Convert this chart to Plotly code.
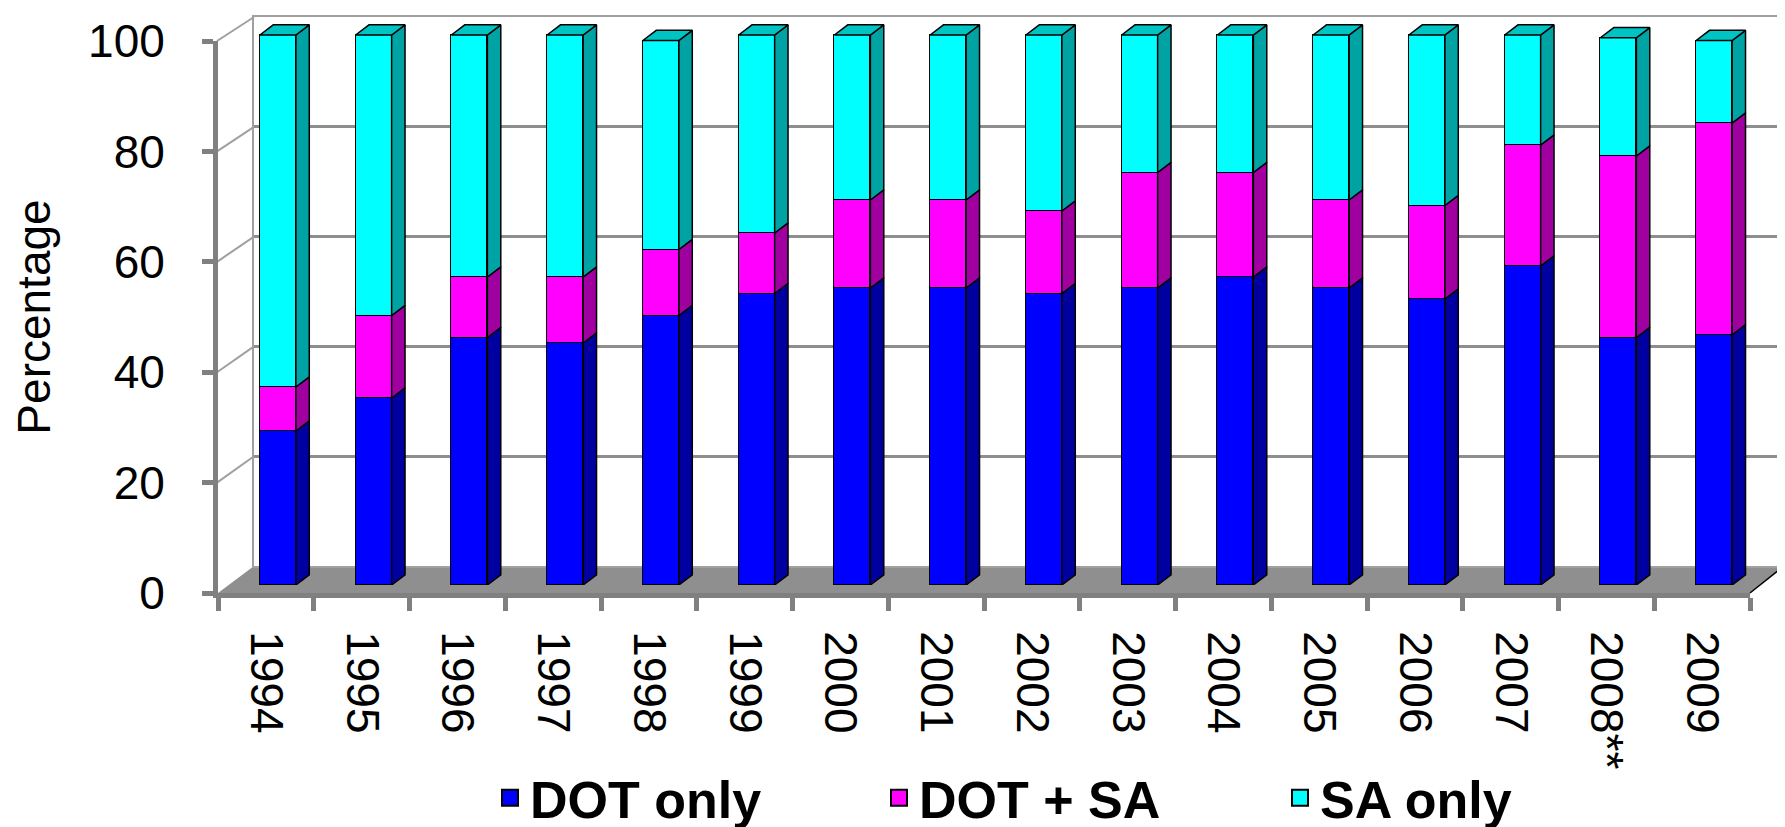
import plotly.graph_objects as go

# ---------------- data ----------------
years = ["1994", "1995", "1996", "1997", "1998", "1999", "2000", "2001",
         "2002", "2003", "2004", "2005", "2006", "2007", "2008**", "2009"]
dot_only = [28, 34, 45, 44, 49, 53, 54, 54, 53, 54, 56, 54, 52, 58, 45, 45.5]
dot_sa = [8, 15, 11, 12, 12, 11, 16, 16, 15, 21, 19, 16, 17, 22, 33, 38.5]
sa_only = [64, 51, 44, 44, 38, 36, 30, 30, 32, 25, 25, 30, 31, 20, 21.5, 15]
y_ticks = [0, 20, 40, 60, 80, 100]

series_names = ["DOT only", "DOT + SA", "SA only"]
series_vals = [dot_only, dot_sa, sa_only]
front_cols = ["#0000FF", "#FF00FF", "#00FFFF"]
side_cols = ["#0000A0", "#A000A0", "#00A3A3"]
top_col = "#00C4C4"

# ---------------- geometry (pixels in a 1785x827 page) ----------------
W, H = 1785, 827
FONT = "Liberation Sans, Arial, sans-serif"
GRAY = "#808080"


def fx(px):
    return px / W


def fy(py):
    return 1 - py / H


# three planes: back wall, bar mid-plane, front axis plane
wall_x = (246, 1776); wall_y = (558, 9)      # value 0 -> 558, 100 -> 9
bar_x = (222, 1754); bar_y0 = 577; bar_y100 = 27
front_x = (210, 1742); front_y = (585, 33)

bar_top_val = 104
bar_ytop_px = bar_y0 - (bar_y0 - bar_y100) * bar_top_val / 100

n = len(years)
idx = list(range(n))
bw = 0.376          # bar width in category units
ddx = 0.14          # depth offset, category units
ddy = 1.85          # depth offset, value units

fig = go.Figure()

# invisible trace so that the back-wall subplot is drawn
fig.add_trace(go.Scatter(x=idx, y=[0] * n, mode="markers", marker=dict(opacity=0),
                         showlegend=False, hoverinfo="skip", xaxis="x", yaxis="y"))

# front faces (stacked bars)
for name, vals, col in zip(series_names, series_vals, front_cols):
    fig.add_trace(go.Bar(
        x=idx, y=vals, width=bw, name=name, legendgroup=name, showlegend=False,
        marker=dict(color=col, line=dict(color="black", width=1.5)),
        xaxis="x2", yaxis="y2", hoverinfo="skip"))

# side faces of every segment
base = [0.0] * n
for name, vals, col in zip(series_names, series_vals, side_cols):
    xs, ys = [], []
    for i in idx:
        y0 = base[i]
        y1 = base[i] + vals[i]
        x1 = i + bw / 2
        xs += [x1, x1 + ddx, x1 + ddx, x1, x1, None]
        ys += [y0, y0 + ddy, y1 + ddy, y1, y0, None]
        base[i] = y1
    fig.add_trace(go.Scatter(
        x=xs, y=ys, mode="lines", fill="toself", fillcolor=col,
        line=dict(color="black", width=1.5), legendgroup=name,
        showlegend=False, hoverinfo="skip", xaxis="x2", yaxis="y2"))

# top faces
xs, ys = [], []
for i in idx:
    t = base[i]
    x0 = i - bw / 2
    x1 = i + bw / 2
    xs += [x0, x0 + ddx, x1 + ddx, x1, x0, None]
    ys += [t, t + ddy, t + ddy, t, t, None]
fig.add_trace(go.Scatter(
    x=xs, y=ys, mode="lines", fill="toself", fillcolor=top_col,
    line=dict(color="black", width=1.5), showlegend=False,
    legendgroup=series_names[2], hoverinfo="skip", xaxis="x2", yaxis="y2"))

# invisible trace carrying the categories of the front axis
fig.add_trace(go.Scatter(x=years, y=[0] * n, mode="markers",
                         marker=dict(opacity=0), showlegend=False,
                         hoverinfo="skip", xaxis="x3", yaxis="y3"))

# legend entries (one legend each, placed like the original)
legend_keys = ["legend", "legend2", "legend3"]
for name, col, lk in zip(series_names, front_cols, legend_keys):
    fig.add_trace(go.Scatter(
        x=[None], y=[None], mode="markers", name=name, legendgroup=name,
        marker=dict(symbol="square", size=16, color=col,
                    line=dict(color="black", width=2)),
        xaxis="x3", yaxis="y3", legend=lk))

# ---------------- decorations: floor and side wall ----------------
shapes = []
floor_path = (f"M {fx(front_x[0])},{fy(front_y[0])} L {fx(wall_x[0])},{fy(wall_y[0])} "
              f"L {fx(wall_x[1])},{fy(wall_y[0])} L {fx(front_x[1])},{fy(front_y[0])} Z")
shapes.append(dict(type="path", path=floor_path, xref="paper", yref="paper",
                   fillcolor="#8F8F8F", line=dict(width=0), layer="below"))
# right edge of the floor
shapes.append(dict(type="line", xref="paper", yref="paper",
                   x0=fx(front_x[1]), y0=fy(front_y[0]),
                   x1=fx(wall_x[1]), y1=fy(wall_y[0]),
                   line=dict(color="black", width=1.5), layer="below"))
# side-wall diagonals joining front ticks to back gridlines
for v in y_ticks[1:]:
    yf = front_y[0] - (front_y[0] - front_y[1]) * v / 100
    yw = wall_y[0] - (wall_y[0] - wall_y[1]) * v / 100
    shapes.append(dict(type="line", xref="paper", yref="paper",
                       x0=fx(front_x[0] - 1), y0=fy(yf), x1=fx(wall_x[0]), y1=fy(yw),
                       line=dict(color="#A0A0A0", width=2), layer="below"))

legend_common = dict(orientation="h", xanchor="left", yanchor="middle",
                     bgcolor="rgba(0,0,0,0)", borderwidth=0,
                     font=dict(family=FONT, size=52, color="black", weight="bold"),
                     itemclick=False, itemdoubleclick=False)

fig.update_layout(
    width=W, height=H,
    margin=dict(l=0, r=0, t=0, b=0, autoexpand=False),
    paper_bgcolor="white", plot_bgcolor="rgba(0,0,0,0)",
    template="none",
    barmode="stack", bargap=0,
    font=dict(family=FONT, color="black"),
    shapes=shapes,
    # back wall
    xaxis=dict(domain=[fx(wall_x[0]), fx(wall_x[1])], range=[-0.5, n - 0.5],
               showgrid=False, zeroline=False, showticklabels=False, ticks="",
               showline=True, mirror=True, linecolor="#A0A0A0", linewidth=2,
               anchor="y", fixedrange=True, automargin=False),
    yaxis=dict(domain=[fy(wall_y[0]), fy(wall_y[1])], range=[0, 100],
               tickvals=y_ticks, showgrid=True, gridcolor="#8E8E8E", gridwidth=2.5,
               zeroline=False, showticklabels=False, ticks="",
               showline=True, mirror=True, linecolor="#A0A0A0", linewidth=2,
               anchor="x", fixedrange=True, automargin=False),
    # bar plane
    xaxis2=dict(domain=[fx(bar_x[0]), fx(bar_x[1])], range=[-0.5, n - 0.5],
                visible=False, anchor="y2", fixedrange=True),
    yaxis2=dict(domain=[fy(bar_y0), fy(bar_ytop_px)], range=[0, bar_top_val],
                visible=False, anchor="x2", fixedrange=True),
    # front axis plane
    xaxis3=dict(domain=[fx(front_x[0]), fx(front_x[1])], type="category",
                categoryorder="array", categoryarray=years, range=[-0.5, n - 0.5],
                tickson="boundaries", ticks="outside", ticklen=13, tickwidth=5,
                tickcolor=GRAY, showline=True, linewidth=5, linecolor=GRAY,
                showgrid=False, zeroline=False, tickangle=90,
                tickfont=dict(family=FONT, size=46, color="black"),
                ticklabelstandoff=24, anchor="y3", fixedrange=True, automargin=False),
    yaxis3=dict(domain=[fy(front_y[0]), fy(front_y[1])], range=[0, 100],
                tickvals=y_ticks, ticks="outside", ticklen=11, tickwidth=5,
                tickcolor=GRAY, showline=True, linewidth=5, linecolor=GRAY,
                showgrid=False, zeroline=False,
                tickfont=dict(family=FONT, size=46, color="black"),
                ticklabelstandoff=28,
                title=dict(text="Percentage", standoff=26,
                           font=dict(family=FONT, size=46, color="black")),
                anchor="x3", fixedrange=True, automargin=False),
    legend=dict(x=fx(482), y=fy(790), **legend_common),
    legend2=dict(x=fx(871), y=fy(790), **legend_common),
    legend3=dict(x=fx(1272), y=fy(790), **legend_common),
    showlegend=True,
)

fig.write_html("out.html")
